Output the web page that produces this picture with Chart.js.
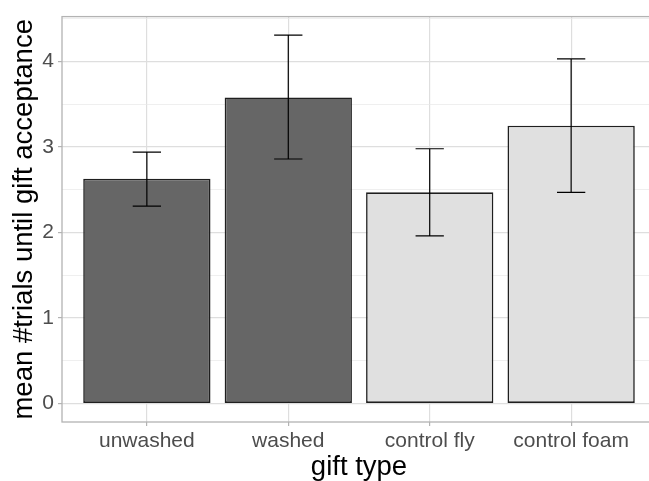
<!DOCTYPE html>
<html>
<head>
<meta charset="utf-8">
<script src="https://cdn.jsdelivr.net/npm/chart.js@4/dist/chart.umd.min.js"></script>
<style>
  html, body { margin: 0; padding: 0; background: #ffffff; overflow: hidden; }
  #wrap { width: 649px; height: 481px; overflow: hidden; }
  canvas { display: block; }
</style>
</head>
<body>
<div id="wrap"><canvas id="chart" width="663" height="481"></canvas></div>
<script>
// Gift types and the mean number of trials until the gift was accepted
const categories = ['unwashed', 'washed', 'control fly', 'control foam'];
const meanTrials = [2.63, 3.58, 2.47, 3.25];
const errLower = [2.31, 2.86, 1.96, 2.47];
const errUpper = [2.94, 4.31, 2.98, 4.03];
const yTickValues = [0, 1, 2, 3, 4];

const FONT = '"Liberation Sans", Arial, sans-serif';
const barFill = ['#666666', '#666666', '#E0E0E0', '#E0E0E0'];

// y limits expanded by 5% of the data span, like a ggplot continuous scale
const yHi = Math.max(...errUpper);
const yLo = 0;
const pad = (yHi - yLo) * 0.05;

// half-steps between the labelled ticks become minor grid lines
const yGridValues = [];
for (let v = 0; v <= yHi + pad; v += 0.5) yGridValues.push(v);

const points = categories.map((c, i) => ({ x: i + 1, y: meanTrials[i] }));

const errorBars = {
  id: 'errorBars',
  afterDatasetsDraw(chart) {
    const { ctx, scales: { x, y } } = chart;
    ctx.save();
    ctx.strokeStyle = '#000000';
    ctx.lineWidth = 1.2;
    categories.forEach((c, i) => {
      const cx = x.getPixelForValue(i + 1);
      const half = Math.abs(x.getPixelForValue(i + 1.1) - cx);
      const yt = y.getPixelForValue(errUpper[i]);
      const yb = y.getPixelForValue(errLower[i]);
      ctx.beginPath();
      ctx.moveTo(cx, yt); ctx.lineTo(cx, yb);
      ctx.moveTo(cx - half, yt); ctx.lineTo(cx + half, yt);
      ctx.moveTo(cx - half, yb); ctx.lineTo(cx + half, yb);
      ctx.stroke();
    });
    ctx.restore();
  }
};

const panelBorder = {
  id: 'panelBorder',
  afterDraw(chart) {
    const { ctx, chartArea: a } = chart;
    ctx.save();
    ctx.strokeStyle = '#B3B3B3';
    ctx.lineWidth = 1.3;
    ctx.strokeRect(a.left, a.top, a.right - a.left, a.bottom - a.top);
    ctx.restore();
  }
};

new Chart(document.getElementById('chart'), {
  type: 'bar',
  data: {
    datasets: [{
      data: points,
      backgroundColor: barFill,
      borderColor: '#1f1f1f',
      borderWidth: 1.6,
      borderSkipped: false,
      barPercentage: 0.9,
      categoryPercentage: 1.0
    }]
  },
  options: {
    responsive: false,
    animation: false,
    devicePixelRatio: 1,
    layout: { padding: { top: 15, right: 7, bottom: 0, left: 0 } },
    plugins: { legend: { display: false }, tooltip: { enabled: false } },
    scales: {
      x: {
        type: 'linear',
        min: 0.4,
        max: 4.6,
        offset: false,
        afterBuildTicks(scale) { scale.ticks = categories.map((c, i) => ({ value: i + 1 })); },
        afterFit(scale) { scale.height = 59; },
        border: { display: false },
        grid: { offset: false, color: '#DEDEDE', lineWidth: 1.2, tickLength: 4, tickColor: '#B3B3B3' },
        ticks: {
          autoSkip: false,
          maxRotation: 0,
          padding: 3,
          color: '#4D4D4D',
          font: { family: FONT, size: 21 },
          callback: (v) => categories[Math.round(v) - 1]
        },
        title: {
          display: true,
          text: 'gift type',
          color: '#000000',
          font: { family: FONT, size: 27.5, lineHeight: 1.0 },
          padding: { top: 0, bottom: 0 }
        }
      },
      y: {
        min: yLo - pad,
        max: yHi + pad,
        afterBuildTicks(scale) { scale.ticks = yGridValues.map(v => ({ value: v })); },
        afterFit(scale) { scale.width = 62; },
        border: { display: false },
        grid: {
          color: (c) => (yTickValues.includes(c.tick.value) ? '#DEDEDE' : '#E8E8E8'),
          lineWidth: (c) => (yTickValues.includes(c.tick.value) ? 1.2 : 0.7),
          tickLength: 4,
          tickColor: (c) => (yTickValues.includes(c.tick.value) ? '#B3B3B3' : 'rgba(0,0,0,0)')
        },
        ticks: {
          autoSkip: false,
          padding: 4,
          color: '#4D4D4D',
          font: { family: FONT, size: 21 },
          callback: (v) => (yTickValues.includes(v) ? String(v) : '')
        },
        title: {
          display: true,
          text: 'mean #trials until gift acceptance',
          color: '#000000',
          font: { family: FONT, size: 27.5, lineHeight: 1.2 },
          padding: { top: 8, bottom: 0 }
        }
      }
    }
  },
  plugins: [errorBars, panelBorder]
});
</script>
</body>
</html>
